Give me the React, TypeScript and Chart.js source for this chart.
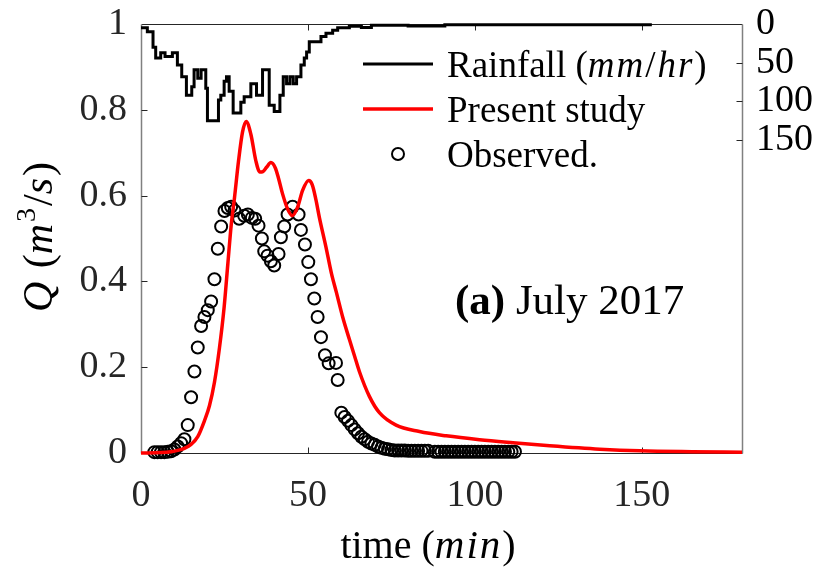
import React, { useEffect, useRef } from "react";
import { Chart, registerables } from "chart.js";

Chart.register(...registerables);

const SERIF = "'Liberation Serif', 'Times New Roman', serif";

// Rainfall intensity (mm/hr), held constant from each start time (min)
const rainTime = [0, 1.9, 3.6, 4.4, 5.9, 7.2, 9.4, 10.9, 12.2, 13.6, 15.2, 15.9, 17, 18, 19.4, 19.9, 23.2, 23.9, 24.9, 25.6, 26.4, 27.6, 29.9, 30.9, 32.9, 34.6, 36.4, 38.4, 39.9, 41.6, 42.6, 43.6, 44.6, 45.6, 46.6, 47.9, 48.9, 49.6, 50.4, 53.9, 55.4, 57.4, 58.9, 62.4, 66, 69, 80, 91, 153];
const rainRate = [4.7, 9.9, 30, 44, 37, 42, 37, 53, 68, 92, 81, 59, 70, 59, 83, 125, 98, 92, 74, 68, 87, 115, 101, 94, 77, 92, 59, 105, 113, 92, 68, 77, 68, 77, 68, 53, 44, 36, 23, 16, 12, 8, 5, 3, 4.5, 1.5, 2.5, 1, 1];

// Simulated discharge, present study (m^3/s)
const simTime = [0, 6, 9, 11, 13, 15, 17, 19, 20.5, 22, 23.5, 24.9, 26, 27, 28, 29.2, 30.4, 31.5, 32.9, 34.4, 35.6, 36.5, 37.6, 38.9, 40.2, 41.2, 42.4, 43.9, 45.3, 46.9, 48.4, 50.2, 51.3, 52.4, 53.4, 55.4, 57, 58.5, 60.4, 62.4, 64, 65.4, 68.4, 71.4, 76.4, 83.4, 91.4, 101.4, 111.4, 122.4, 137.4, 149.4, 165, 180];
const simFlow = [0, 0.001, 0.003, 0.006, 0.011, 0.02, 0.038, 0.075, 0.11, 0.165, 0.245, 0.34, 0.44, 0.53, 0.595, 0.68, 0.748, 0.773, 0.743, 0.681, 0.655, 0.656, 0.666, 0.677, 0.665, 0.64, 0.604, 0.569, 0.553, 0.573, 0.612, 0.635, 0.625, 0.59, 0.55, 0.48, 0.42, 0.375, 0.317, 0.265, 0.225, 0.19, 0.132, 0.094, 0.065, 0.05, 0.04, 0.031, 0.024, 0.017, 0.009, 0.005, 0.003, 0.002];

// Observed discharge (m^3/s)
const obsTime = [4, 5, 6, 7, 8, 9, 10, 11, 12, 13, 14, 15, 16, 17, 18, 19, 20, 21, 22, 23, 24, 25, 26, 27, 28, 29.4, 30.9, 32, 33.2, 34.2, 35.2, 36.2, 36.9, 37.9, 38.9, 39.9, 41.2, 41.9, 42.9, 43.9, 45.4, 47.2, 47.9, 49.1, 50.1, 50.9, 51.9, 52.9, 53.9, 55.1, 56.2, 58.4, 58.9, 60, 61, 62, 63, 64, 65, 66, 67, 68, 69, 70, 71, 72, 73, 74, 75, 76, 77, 78, 79, 80, 81, 82, 83, 84, 85, 86, 88, 89, 90, 91, 92, 93, 94, 95, 96, 97, 98, 99, 100, 101, 102, 103, 104, 105, 106, 107, 108, 109, 110, 111, 112];
const obsFlow = [0.002, 0.002, 0.002, 0.002, 0.003, 0.004, 0.008, 0.015, 0.023, 0.032, 0.065, 0.13, 0.19, 0.246, 0.296, 0.317, 0.333, 0.353, 0.405, 0.476, 0.528, 0.564, 0.571, 0.574, 0.565, 0.546, 0.553, 0.556, 0.548, 0.546, 0.53, 0.5, 0.47, 0.46, 0.447, 0.437, 0.464, 0.503, 0.528, 0.556, 0.574, 0.556, 0.52, 0.486, 0.445, 0.405, 0.36, 0.317, 0.27, 0.228, 0.209, 0.21, 0.17, 0.094, 0.084, 0.075, 0.065, 0.055, 0.046, 0.038, 0.032, 0.026, 0.022, 0.019, 0.015, 0.012, 0.01, 0.0085, 0.007, 0.006, 0.006, 0.006, 0.006, 0.005, 0.005, 0.005, 0.005, 0.005, 0.005, 0.005, 0.003, 0.003, 0.003, 0.003, 0.003, 0.003, 0.003, 0.003, 0.003, 0.003, 0.003, 0.003, 0.003, 0.003, 0.003, 0.003, 0.003, 0.003, 0.003, 0.003, 0.003, 0.003, 0.003, 0.003, 0.003];

const xTicks = [0, 50, 100, 150];
const qTicks = [0, 0.2, 0.4, 0.6, 0.8, 1];
const rainTicks = [0, 50, 100, 150];

const pairs = (xs: number[], ys: number[]) => xs.map((x, i) => ({ x, y: ys[i] }));

type Part = { t: string; font: string; dy?: number; sp?: number };

const reg = (px: number) => `${px}px ${SERIF}`;
const ita = (px: number) => `italic ${px}px ${SERIF}`;
const bold = (px: number) => `bold ${px}px ${SERIF}`;

// Draws a run of differently styled text pieces one after another.
function drawParts(ctx: CanvasRenderingContext2D, parts: Part[], x: number, y: number, align: "left" | "center") {
  const c = ctx as any;
  const widthOf = (p: Part) => {
    ctx.font = p.font;
    c.letterSpacing = `${p.sp || 0}px`;
    return ctx.measureText(p.t).width;
  };
  let total = 0;
  for (const p of parts) total += widthOf(p);
  let cx = align === "center" ? x - total / 2 : x;
  ctx.textAlign = "left";
  ctx.textBaseline = "alphabetic";
  for (const p of parts) {
    const w = widthOf(p);
    ctx.fillText(p.t, cx, y + (p.dy || 0));
    cx += w;
  }
  c.letterSpacing = "0px";
}

const frame = {
  id: "frame",
  beforeDatasetsDraw(chart: any) {
    const { ctx, chartArea, scales } = chart;
    const { left, right, top, bottom } = chartArea;
    const L = Math.round(left) + 0.5;
    const R = Math.round(right) + 0.5;
    const T = Math.round(top) + 0.5;
    const B = Math.round(bottom) + 0.5;
    ctx.save();
    ctx.lineWidth = 1;
    ctx.strokeStyle = "#262626";
    ctx.beginPath();
    ctx.moveTo(L, T); ctx.lineTo(R, T);
    ctx.moveTo(L, B); ctx.lineTo(R, B);
    ctx.stroke();
    ctx.strokeStyle = "#808080";
    ctx.lineWidth = 1.5;
    ctx.beginPath();
    ctx.moveTo(L, T); ctx.lineTo(L, B);
    ctx.moveTo(R, T); ctx.lineTo(R, B);
    ctx.stroke();
    // inward tick marks
    ctx.strokeStyle = "#262626";
    ctx.lineWidth = 1;
    const len = 6;
    ctx.beginPath();
    for (const v of xTicks) {
      const px = Math.round(scales.x.getPixelForValue(v)) + 0.5;
      if (px <= L + 1 || px >= R - 1) continue;
      ctx.moveTo(px, B); ctx.lineTo(px, B - len);
      ctx.moveTo(px, T); ctx.lineTo(px, T + len);
    }
    for (const v of qTicks) {
      const py = Math.round(scales.y.getPixelForValue(v)) + 0.5;
      if (py <= T + 1 || py >= B - 1) continue;
      ctx.moveTo(L, py); ctx.lineTo(L + len, py);
    }
    for (const v of rainTicks) {
      const py = Math.round(scales.y2.getPixelForValue(v)) + 0.5;
      if (py <= T + 1 || py >= B - 1) continue;
      ctx.moveTo(R, py); ctx.lineTo(R - len, py);
    }
    ctx.stroke();
    ctx.restore();
  },
  afterDraw(chart: any) {
    const { ctx } = chart;
    ctx.save();
    ctx.fillStyle = "#000";

    // legend
    const lx0 = 363, lx1 = 433, tx = 447;
    const rows = [64, 109, 154];
    ctx.lineWidth = 3;
    ctx.strokeStyle = "#000";
    ctx.beginPath(); ctx.moveTo(lx0, rows[0]); ctx.lineTo(lx1, rows[0]); ctx.stroke();
    ctx.strokeStyle = "#ff0000";
    ctx.lineWidth = 3.5;
    ctx.beginPath(); ctx.moveTo(lx0, rows[1]); ctx.lineTo(lx1, rows[1]); ctx.stroke();
    ctx.strokeStyle = "#000";
    ctx.lineWidth = 2;
    ctx.beginPath(); ctx.arc((lx0 + lx1) / 2, rows[2], 6, 0, Math.PI * 2); ctx.stroke();
    const fs = 37;
    const base = 13;
    drawParts(ctx, [
      { t: "Rainfall (", font: reg(fs) },
      { t: "mm", font: ita(fs), sp: 2 },
      { t: "/", font: reg(fs), sp: 2 },
      { t: "hr", font: ita(fs), sp: 2 },
      { t: ")", font: reg(fs) },
    ], tx, rows[0] + base, "left");
    drawParts(ctx, [{ t: "Present study", font: reg(fs) }], tx, rows[1] + base, "left");
    drawParts(ctx, [{ t: "Observed.", font: reg(fs) }], tx, rows[2] + base, "left");

    // panel label
    drawParts(ctx, [
      { t: "(a)", font: bold(43) },
      { t: " July 2017", font: reg(43) },
    ], 455, 314, "left");

    // x axis title
    drawParts(ctx, [
      { t: "time (", font: reg(40) },
      { t: "min", font: ita(41), sp: 2 },
      { t: ")", font: reg(40) },
    ], 428, 558, "center");

    // left axis title
    ctx.save();
    ctx.translate(52, 237);
    ctx.rotate(-Math.PI / 2);
    drawParts(ctx, [
      { t: "Q", font: ita(42), sp: 3 },
      { t: " (", font: reg(42) },
      { t: "m", font: ita(42), sp: 2 },
      { t: "3", font: reg(28), dy: -17, sp: 2 },
      { t: "/", font: reg(42) },
      { t: "s", font: ita(42), sp: 2 },
      { t: ")", font: reg(42) },
    ], 0, 0, "center");
    ctx.restore();

    ctx.restore();
  },
};

export default function App() {
  const ref = useRef<HTMLCanvasElement | null>(null);

  useEffect(() => {
    const canvas = ref.current;
    if (!canvas) return;
    const tickFont = { family: SERIF, size: 38 };
    const chart = new Chart(canvas, {
      type: "line",
      data: {
        datasets: [
          {
            label: "Present study",
            data: pairs(simTime, simFlow),
            yAxisID: "y",
            borderColor: "#ff0000",
            borderWidth: 3.5,
            pointRadius: 0,
            cubicInterpolationMode: "monotone",
            fill: false,
            clip: false,
            order: 0,
          },
          {
            label: "Observed.",
            data: pairs(obsTime, obsFlow),
            yAxisID: "y",
            showLine: false,
            pointStyle: "circle",
            pointRadius: 6,
            pointBorderWidth: 2,
            pointBorderColor: "#000",
            pointBackgroundColor: "rgba(0,0,0,0)",
            clip: false,
            order: 1,
          },
          {
            label: "Rainfall",
            data: pairs(rainTime, rainRate),
            yAxisID: "y2",
            stepped: true,
            borderColor: "#000",
            borderWidth: 3,
            pointRadius: 0,
            fill: false,
            clip: false,
            order: 2,
          },
        ] as any,
      },
      options: {
        animation: false,
        responsive: false,
        devicePixelRatio: 1,
        events: [],
        layout: { padding: { top: 24, left: 0, right: 0, bottom: 0 } },
        plugins: { legend: { display: false }, tooltip: { enabled: false } },
        scales: {
          x: {
            type: "linear",
            position: "bottom",
            min: 0,
            max: 180,
            grid: { display: false, drawTicks: false },
            border: { display: false },
            ticks: { font: tickFont, color: "#262626", padding: 20, maxRotation: 0 },
            afterBuildTicks: (s: any) => { s.ticks = xTicks.map((v) => ({ value: v })); },
            afterFit: (s: any) => { s.height = 115; s.paddingLeft = 0; s.paddingRight = 0; },
          },
          y: {
            type: "linear",
            position: "left",
            min: 0,
            max: 1,
            grid: { display: false, drawTicks: false },
            border: { display: false },
            ticks: {
              font: tickFont,
              color: "#262626",
              padding: 14,
              callback: (v: any) => String(Math.round(Number(v) * 10) / 10),
            },
            afterBuildTicks: (s: any) => { s.ticks = qTicks.map((v) => ({ value: v })); },
            afterFit: (s: any) => { s.width = 141; s.paddingTop = 0; s.paddingBottom = 0; },
          },
          y2: {
            type: "linear",
            position: "right",
            reverse: true,
            min: 0,
            max: 554,
            grid: { display: false, drawTicks: false },
            border: { display: false },
            ticks: { font: tickFont, color: "#000", padding: 14 },
            afterBuildTicks: (s: any) => { s.ticks = rainTicks.map((v) => ({ value: v })); },
            afterFit: (s: any) => { s.width = 78; s.paddingTop = 0; s.paddingBottom = 0; },
          },
        },
      } as any,
      plugins: [frame],
    });
    return () => chart.destroy();
  }, []);

  return (
    <div style={{ position: "fixed", left: 0, top: 0, width: 820, height: 568, background: "#fff" }}>
      <canvas ref={ref} width={820} height={568} style={{ display: "block", width: 820, height: 568 }} />
    </div>
  );
}
